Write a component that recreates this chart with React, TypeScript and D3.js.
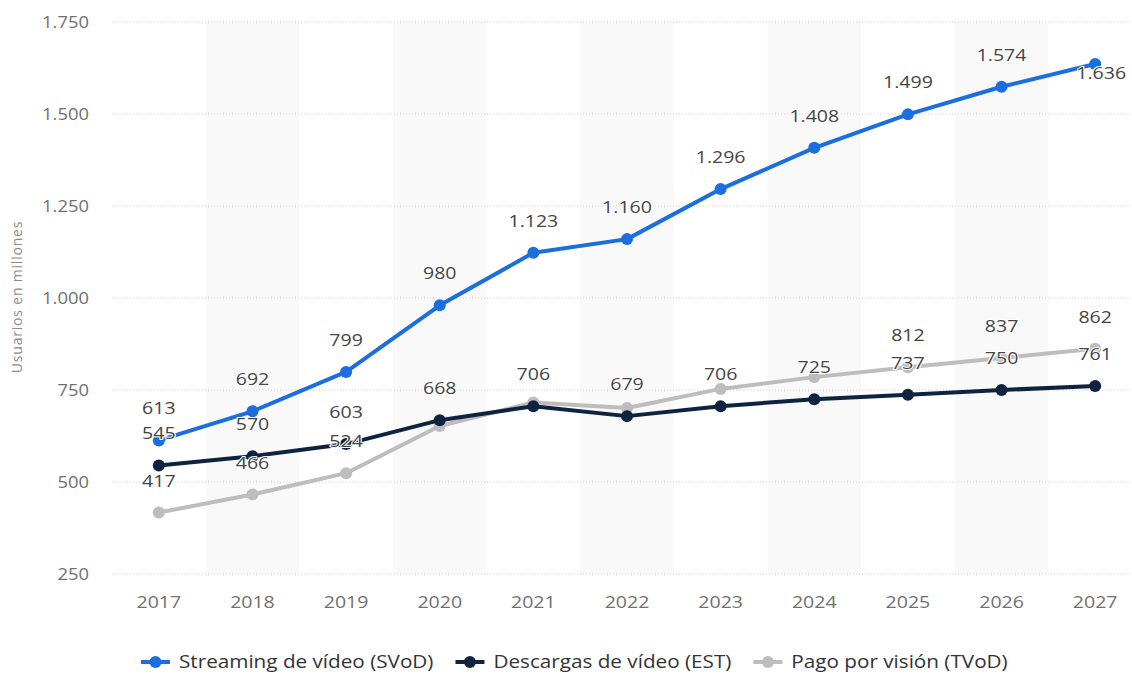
import React, { useEffect, useRef } from "react";
import * as d3 from "d3";

const years = ["2017", "2018", "2019", "2020", "2021", "2022", "2023", "2024", "2025", "2026", "2027"];
const svod = [613, 692, 799, 980, 1123, 1160, 1296, 1408, 1499, 1574, 1636];
const est = [545, 570, 603, 668, 706, 679, 706, 725, 737, 750, 761];
const tvod = [417, 466, 524, 652, 716, 701, 753, 785, 812, 837, 862];
const yTicks = [250, 500, 750, 1000, 1250, 1500, 1750];

const seriesNames = ["Streaming de vídeo (SVoD)", "Descargas de vídeo (EST)", "Pago por visión (TVoD)"];
const seriesColors = ["#1a6ee0", "#0e2340", "#bdbdbd"];

const W = 1132;
const H = 675;
const FONT = "'Open Sans', sans-serif";
const SX = 1.15; // the original text is a bit wider than Open Sans

const fmt = d3.formatLocale({ decimal: ",", thousands: ".", grouping: [3], currency: ["", ""] }).format(",");

// text placed at (x, y) and stretched horizontally around its anchor
function addText(g, x, y, txt, size, fill, anchor) {
  return g.append("text")
    .attr("transform", `translate(${x},${y}) scale(${SX},1)`)
    .attr("text-anchor", anchor)
    .attr("font-family", FONT)
    .attr("font-size", size)
    .attr("fill", fill)
    .text(txt);
}

export default function App() {
  const ref = useRef<SVGSVGElement>(null);

  useEffect(() => {
    const svg = d3.select(ref.current);
    svg.selectAll("*").remove();

    const left = 112, right = 1142, top = 22, bottom = 574;
    const x = d3.scaleBand().domain(years).range([left, right]);
    const y = d3.scaleLinear().domain([250, 1750]).range([bottom, top]);
    const cx = (d) => x(d) + x.bandwidth() / 2;

    // alternating column bands
    svg.append("g")
      .selectAll("rect")
      .data(years.filter((d, i) => i % 2 === 1))
      .enter().append("rect")
      .attr("x", (d) => x(d))
      .attr("y", top)
      .attr("width", x.bandwidth())
      .attr("height", bottom - top)
      .attr("fill", "#f9f9f9");

    // grid
    svg.append("g")
      .selectAll("line")
      .data(yTicks)
      .enter().append("line")
      .attr("x1", left).attr("x2", right)
      .attr("y1", (d) => y(d)).attr("y2", (d) => y(d))
      .attr("stroke", "#d0d0d0")
      .attr("stroke-dasharray", "1,2");

    const yax = svg.append("g");
    yTicks.forEach((t) => addText(yax, 89, y(t) + 6, fmt(t), 16, "#707070", "end"));

    const xax = svg.append("g");
    years.forEach((yr) => addText(xax, cx(yr), 608, yr, 17, "#707070", "middle"));

    svg.append("text")
      .attr("transform", "translate(22,297) rotate(-90)")
      .attr("text-anchor", "middle")
      .attr("font-family", FONT)
      .attr("font-size", 14)
      .attr("letter-spacing", 0.8)
      .attr("fill", "#8a8a8a")
      .text("Usuarios en millones");

    const all = [svod, est, tvod];
    const line = d3.line().x((d, i) => cx(years[i])).y((d) => y(d));

    all.slice().reverse().forEach((vals, ri) => {
      const si = all.length - 1 - ri;
      const g = svg.append("g");
      g.append("path")
        .attr("d", line(vals))
        .attr("fill", "none")
        .attr("stroke", seriesColors[si])
        .attr("stroke-width", 4)
        .attr("stroke-linejoin", "round");
      g.selectAll("circle")
        .data(vals)
        .enter().append("circle")
        .attr("cx", (d, i) => cx(years[i]))
        .attr("cy", (d) => y(d))
        .attr("r", 6)
        .attr("fill", seriesColors[si]);
    });

    // data labels, hidden when they collide (like the original)
    const placed = [];
    const lg = svg.append("g");
    all.forEach((vals, si) => {
      vals.forEach((v, i) => {
        let lx = cx(years[i]);
        let ly = y(v) - 26;
        if (si === 0 && i === vals.length - 1) { lx += 6; ly = y(v) + 15; }
        const txt = fmt(v);
        const w = txt.length * 11 + 6;
        const box = { x0: lx - w / 2, x1: lx + w / 2, y0: ly - 18, y1: ly + 6 };
        const hit = placed.some((b) => b.x0 < box.x1 && box.x0 < b.x1 && b.y0 < box.y1 && box.y0 < b.y1);
        if (hit) return;
        placed.push(box);
        addText(lg, lx, ly, txt, 17, "#444", "middle")
          .attr("stroke", "#fff")
          .attr("stroke-width", 2)
          .attr("paint-order", "stroke")
          .attr("stroke-linejoin", "round");
      });
    });

    // legend
    const legend = svg.append("g");
    let mx = 141;
    seriesNames.forEach((name, i) => {
      const item = legend.append("g").attr("transform", `translate(${mx},662)`);
      item.append("line")
        .attr("x1", 0).attr("x2", 29)
        .attr("stroke", seriesColors[i]).attr("stroke-width", 4);
      item.append("circle").attr("cx", 14.5).attr("r", 6).attr("fill", seriesColors[i]);
      const t = addText(item, 38, 6, name, 18, "#333", "start");
      const tw = (t.node() as SVGTextElement).getComputedTextLength() * SX;
      mx += 38 + tw + 22;
    });
  }, []);

  return (
    <svg
      ref={ref}
      width={W}
      height={H}
      style={{ position: "absolute", left: 0, top: 0, background: "#fff" }}
    />
  );
}
